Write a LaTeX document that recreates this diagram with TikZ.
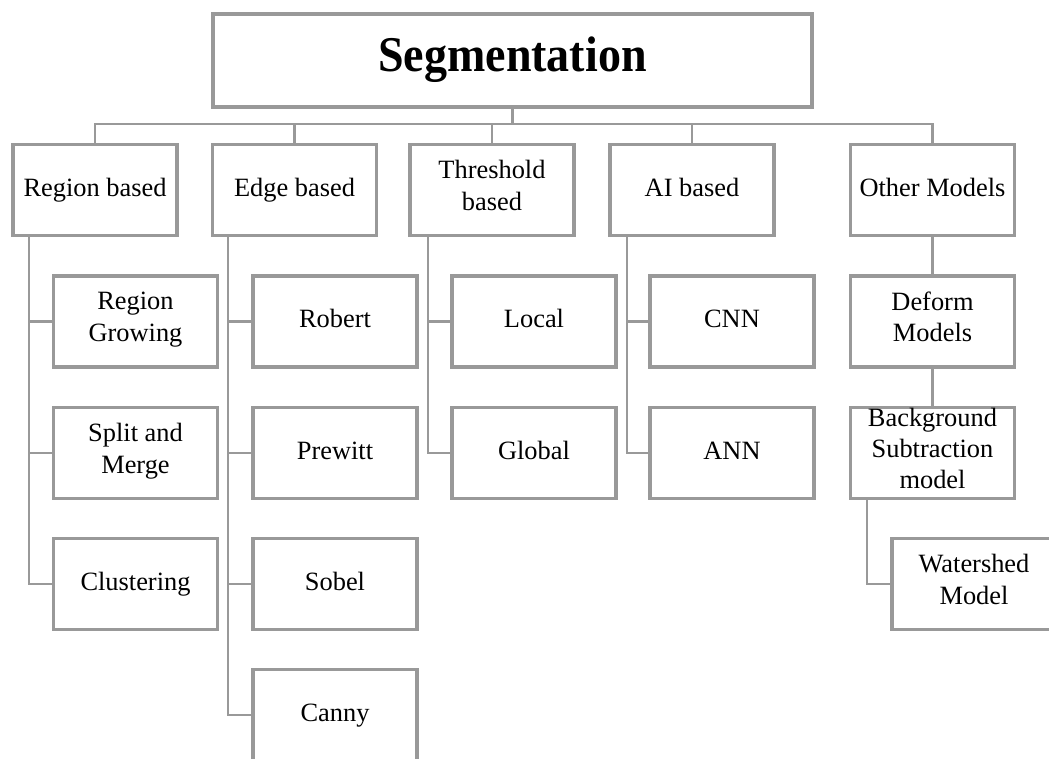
\documentclass[tikz,border=0pt]{standalone}
\usepackage{fontspec}
\setmainfont{Liberation Serif}
\usepackage{graphicx}
\definecolor{linegray}{RGB}{153,153,153}
\tikzset{
  px/.style={x=0.75pt,y=-0.75pt},
  box/.style={draw=linegray, line width=2.8pt, fill=white, align=center,
    inner sep=0pt, minimum width=123pt, minimum height=68.2pt,
    execute at begin node={\strut}, execute at end node={\strut},
    font=\fontsize{19.8pt}{23.5pt}\selectfont},
  topbox/.style={box, minimum width=449.25pt, minimum height=69.75pt,
    font=\fontsize{37.5pt}{40pt}\selectfont\bfseries},
  link/.style={draw=linegray, line width=2pt}
}
\begin{document}
\begin{tikzpicture}[px]
\useasboundingbox (0,0) rectangle (1049,758);
\clip (0,0) rectangle (1049,758);
\fill[white] (0,0) rectangle (1049,758);

% root
\node[topbox] (seg) at (512.5,60.5) {\scalebox{0.92}[1]{Segmentation}};

% first level
\node[box] (rb) at (95,190)    {Region based};
\node[box] (eb) at (294.5,190) {Edge based};
\node[box] (tb) at (492,190)   {Threshold\\based};
\node[box] (ab) at (692,190)   {AI based};
\node[box] (ob) at (932.5,190) {Other Models};

% region based methods
\node[box] (rg) at (135.5,321.5) {Region\\Growing};
\node[box] (sm) at (135.5,453)   {Split and\\Merge};
\node[box] (cl) at (135.5,584)   {Clustering};

% edge based methods
\node[box] (ro) at (335,321.5) {Robert};
\node[box] (pr) at (335,453)   {Prewitt};
\node[box] (so) at (335,584)   {Sobel};
\node[box] (ca) at (335,715)   {Canny};

% threshold based methods
\node[box] (lo) at (534,321.5) {Local};
\node[box] (gl) at (534,453)   {Global};

% AI based methods
\node[box] (cn) at (732,321.5) {CNN};
\node[box] (an) at (732,453)   {ANN};

% other models
\node[box] (dm) at (932.5,321.5) {Deform\\Models};
\node[box] (bs) at (932.5,453)   {Background\\Subtraction\\model};
\node[box] (ws) at (974,584)     {Watershed\\Model};

% bus under the root
\coordinate (bus) at (95,124);
\draw[link] (seg.south) -- (seg.south |- bus);
\draw[link] (rb.north) |- (ob.north |- bus) -- (ob.north);
\foreach \n in {eb,tb,ab} \draw[link] (\n.north) -- (\n.north |- bus);

% trunks of the first level
\coordinate (rt) at (29,236);
\coordinate (et) at (228,236);
\coordinate (tt) at (428,236);
\coordinate (at) at (627,236);
\draw[link] (rt) |- (cl.west);
\foreach \n in {rg,sm} \draw[link] (rt |- \n.west) -- (\n.west);
\draw[link] (et) |- (ca.west);
\foreach \n in {ro,pr,so} \draw[link] (et |- \n.west) -- (\n.west);
\draw[link] (tt) |- (gl.west);
\draw[link] (tt |- lo.west) -- (lo.west);
\draw[link] (at) |- (an.west);
\draw[link] (at |- cn.west) -- (cn.west);

% chain of other models
\draw[link] (ob.south) -- (dm.north);
\draw[link] (dm.south) -- (bs.north);
\coordinate (bt) at (867,498);
\draw[link] (bt) |- (ws.west);
\end{tikzpicture}
\end{document}
